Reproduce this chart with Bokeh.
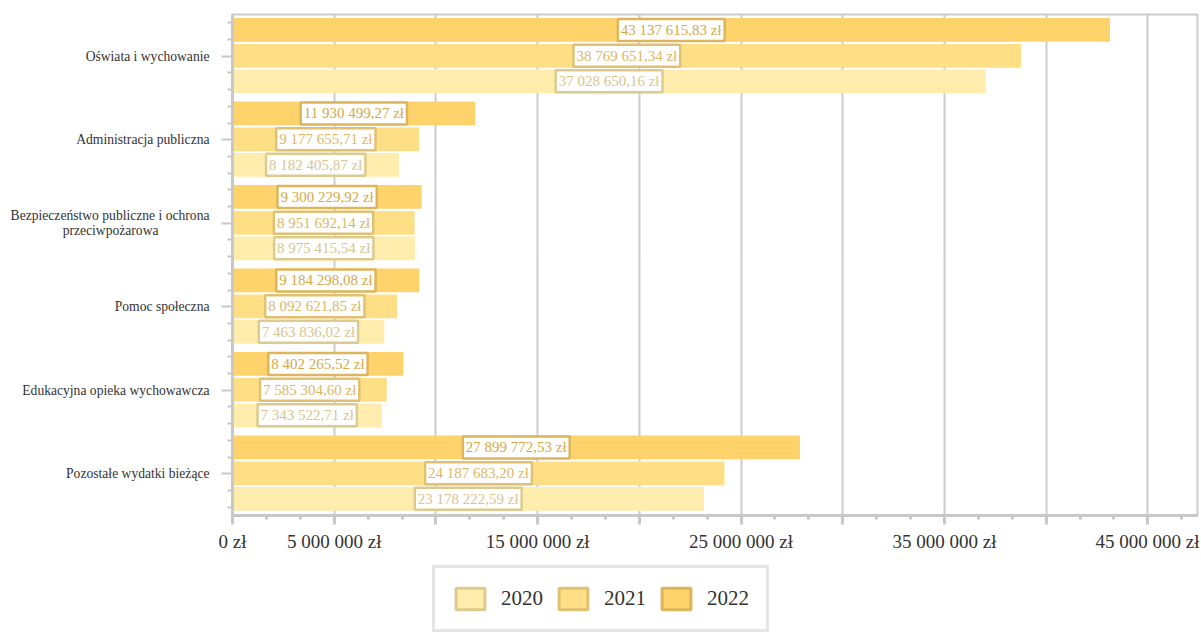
from bokeh.plotting import figure
from bokeh.layouts import column
from bokeh.models import (ColumnDataSource, Range1d, FixedTicker, Legend, LegendItem)
from bokeh.core.properties import value
from bokeh.embed import file_html
from bokeh.resources import INLINE

categories = ["Oświata i wychowanie", "Administracja publiczna",
              "Bezpieczeństwo publiczne i ochrona\nprzeciwpożarowa" + "\u00a0" * 15,
              "Pomoc społeczna",
              "Edukacyjna opieka wychowawcza", "Pozostałe wydatki bieżące"]
years = ["2020", "2021", "2022"]
v2020 = [37028650.16, 8182405.87, 8975415.54, 7463836.02, 7343522.71, 23178222.59]
v2021 = [38769651.34, 9177655.71, 8951692.14, 8092621.85, 7585304.60, 24187683.20]
v2022 = [43137615.83, 11930499.27, 9300229.92, 9184298.08, 8402265.52, 27899772.53]
x_ticks = [0, 5e6, 10e6, 15e6, 20e6, 25e6, 30e6, 35e6, 40e6, 45e6]
x_tick_labels = ["0 zł", "5 000 000 zł", "", "15 000 000 zł", "", "25 000 000 zł", "",
                 "35 000 000 zł", "", "45 000 000 zł"]

FONT = "Liberation Serif"
fills = {"2020": "#FFEDAE", "2021": "#FFDF86", "2022": "#FFD36C"}
borders = {"2020": "#DCCB8C", "2021": "#E0C172", "2022": "#DDB55A"}
texts = {"2020": "#D9C68E", "2021": "#DCB865", "2022": "#D7A944"}
offsets = {"2020": 0.30, "2021": -0.005, "2022": -0.315}
series = {"2020": v2020, "2021": v2021, "2022": v2022}


def fmt(v):
    return f"{v:,.2f}".replace(",", " ").replace(".", ",") + " zł"


W = 1199
p = figure(width=W, height=560, output_backend="svg", toolbar_location=None,
           x_range=Range1d(0, 47.44e6), y_range=Range1d(6, 0),
           min_border_left=232, min_border_right=2, min_border_top=14, min_border_bottom=45)
p.background_fill_color = "white"
p.outline_line_color = "#CCCCCC"
p.outline_line_width = 2

centers = [i + 0.5 for i in range(len(categories))]
for y in years:
    src = ColumnDataSource(dict(
        y=[c + offsets[y] for c in centers],
        right=series[y],
        mid=[v / 2 for v in series[y]],
        lab=[fmt(v) for v in series[y]],
    ))
    p.hbar(y="y", left=0, right="right", height=0.285, source=src,
           fill_color=fills[y], line_color=None)
    p.text(x="mid", y="y", text="lab", source=src, text_align="center",
           text_baseline="middle", text_font=value(FONT), text_font_size="15px",
           text_color=texts[y], background_fill_color="white",
           border_line_color=borders[y], border_line_width=2.5, padding=3)

# x axis
p.xaxis.ticker = FixedTicker(ticks=x_ticks,
                             minor_ticks=[i * 5e6 / 3 for i in range(0, 29)])
p.xaxis.major_label_overrides = {t: l for t, l in zip(x_ticks, x_tick_labels)}
p.xaxis.axis_line_color = "#C8C8C8"
p.xaxis.axis_line_width = 3
p.xaxis.major_tick_line_color = "#C8C8C8"
p.xaxis.major_tick_line_width = 3
p.xaxis.minor_tick_line_color = "#C8C8C8"
p.xaxis.minor_tick_line_width = 3
p.xaxis.major_tick_in = 0
p.xaxis.major_tick_out = 9
p.xaxis.minor_tick_in = 0
p.xaxis.minor_tick_out = 4
p.xaxis.major_label_text_font = FONT
p.xaxis.major_label_text_font_size = "19px"
p.xaxis.major_label_text_color = "#333333"
p.xaxis.major_label_standoff = 6

# y axis
minor_y = []
for c in centers:
    minor_y += [c - 0.4, c - 0.2, c + 0.2, c + 0.4]
p.yaxis.ticker = FixedTicker(ticks=centers, minor_ticks=minor_y)
p.yaxis.major_label_overrides = {c: n for c, n in zip(centers, categories)}
p.yaxis.axis_line_color = "#C8C8C8"
p.yaxis.axis_line_width = 3
p.yaxis.major_tick_line_color = "#C8C8C8"
p.yaxis.major_tick_line_width = 2
p.yaxis.minor_tick_line_color = "#C8C8C8"
p.yaxis.minor_tick_line_width = 2
p.yaxis.major_tick_in = 0
p.yaxis.major_tick_out = 11
p.yaxis.minor_tick_in = 0
p.yaxis.minor_tick_out = 5
p.yaxis.major_label_text_font = FONT
p.yaxis.major_label_text_font_size = "13.6px"
p.yaxis.major_label_text_color = "#333333"
p.yaxis.major_label_text_line_height = 1.0
p.yaxis.major_label_standoff = 12

p.xgrid.grid_line_color = "#CCCCCC"
p.xgrid.grid_line_width = 2
p.ygrid.grid_line_color = None

# legend in its own strip below the chart (frames of a column are aligned)
lf = figure(width=W, height=73, output_backend="svg", toolbar_location=None,
            x_range=Range1d(0, 1), y_range=Range1d(0, 1),
            x_axis_type=None, y_axis_type=None, min_border=0)
lf.outline_line_color = None
lf.xgrid.grid_line_color = None
lf.ygrid.grid_line_color = None
items = []
for y in years:
    # legend-only renderer with a zero-size bar
    r = lf.hbar(y=[0.5], left=[0.5], right=[0.5], height=0, fill_color=fills[y],
                line_color=borders[y], line_width=3)
    items.append(LegendItem(label=y, renderers=[r]))
legend = Legend(items=items, orientation="horizontal", location=(200, 1),
                border_line_color="#CCCCCC", border_line_width=3,
                background_fill_color="white", padding=17, margin=0,
                spacing=12, label_standoff=13, glyph_width=36, glyph_height=27,
                label_height=27, label_text_font=FONT, label_text_font_size="21px",
                label_text_color="#333333", label_text_baseline="middle")
lf.add_layout(legend, "center")

layout = column(p, lf, spacing=0)
open("out.html", "w").write(file_html(layout, INLINE))
